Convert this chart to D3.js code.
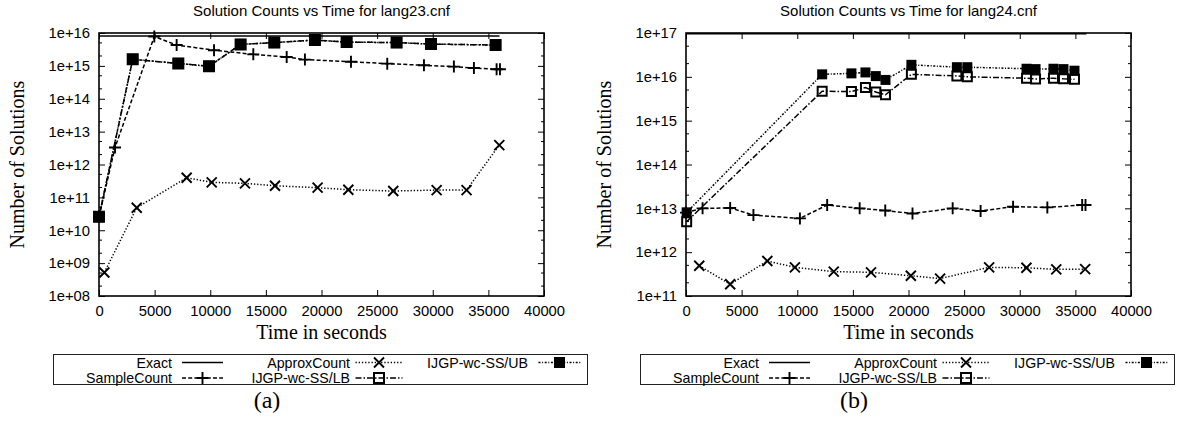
<!DOCTYPE html>
<html><head><meta charset="utf-8">
<script src="https://cdn.jsdelivr.net/npm/d3@7"></script>
<style>body{margin:0;background:#fff}</style>
</head><body><svg id="c" width="1180" height="426"></svg>
<script>
// ---------------- data ----------------
const xTickValues = [0, 5000, 10000, 15000, 20000, 25000, 30000, 35000, 40000];
const yTicks23 = [1e8, 1e9, 1e10, 1e11, 1e12, 1e13, 1e14, 1e15, 1e16];
const yTicks24 = [1e11, 1e12, 1e13, 1e14, 1e15, 1e16, 1e17];
const titles = ["Solution Counts vs Time for lang23.cnf", "Solution Counts vs Time for lang24.cnf"];
const captions = ["(a)", "(b)"];
const seriesNames = ["Exact", "SampleCount", "ApproxCount", "IJGP-wc-SS/LB", "IJGP-wc-SS/UB"];
const xLabel = "Time in seconds";
const yLabel = "Number of Solutions";

// lang23
const exact23_t = [0, 36000];
const exact23_v = [8.1e15, 8.1e15];
const sample23_t = [0, 1440, 4970, 6980, 10340, 13870, 16870, 18510, 22650, 25910, 29210, 31900, 33700, 35740, 36040];
const sample23_v = [2.6e10, 3.3e12, 7.8e15, 4.3e15, 3.0e15, 2.24e15, 1.86e15, 1.55e15, 1.34e15, 1.17e15, 1.04e15, 9.5e14, 8.6e14, 7.9e14, 7.9e14];
const approx23_t = [480, 3390, 7880, 10130, 13120, 15820, 19650, 22410, 26450, 30350, 33040, 35980];
const approx23_v = [5.2e8, 4.85e10, 3.96e11, 2.86e11, 2.67e11, 2.26e11, 1.97e11, 1.71e11, 1.56e11, 1.67e11, 1.67e11, 3.9e12];
const ijgp23_t = [0, 3030, 7130, 9890, 12730, 15760, 19410, 22260, 26750, 29840, 35650];
const lb23_v = [2.58e10, 1.58e15, 1.19e15, 9.7e14, 4.5e15, 5.1e15, 6.1e15, 5.3e15, 5.1e15, 4.6e15, 4.3e15];
const ub23_v = [2.58e10, 1.58e15, 1.19e15, 9.7e14, 4.5e15, 5.1e15, 6.1e15, 5.3e15, 5.1e15, 4.6e15, 4.3e15];

// lang24
const exact24_t = [0, 36000];
const exact24_v = [9.6e16, 9.6e16];
const sample24_t = [0, 1490, 3970, 6060, 10240, 12690, 15610, 17910, 20360, 23970, 26480, 29400, 32480, 35610, 35910];
const sample24_v = [8.0e12, 1.0e13, 1.02e13, 7.0e12, 5.9e12, 1.19e13, 1.0e13, 8.9e12, 7.6e12, 1.0e13, 8.7e12, 1.09e13, 1.05e13, 1.19e13, 1.19e13];
const approx24_t = [1190, 3970, 7310, 9790, 13280, 16630, 20210, 22840, 27250, 30600, 33280, 35880];
const approx24_v = [4.9e11, 1.85e11, 6.3e11, 4.5e11, 3.6e11, 3.47e11, 2.9e11, 2.5e11, 4.5e11, 4.4e11, 4.06e11, 4.1e11];
const ijgp24_t = [60, 12240, 14870, 16130, 17060, 17930, 20260, 24350, 25290, 30610, 31420, 33030, 33930, 34920];
const lb24_v = [4.97e12, 4.7e15, 4.6e15, 5.7e15, 4.5e15, 3.9e15, 1.14e16, 1.05e16, 1.0e16, 9.3e15, 8.9e15, 9.3e15, 9.0e15, 8.8e15];
const ub24_v = [8.1e12, 1.14e16, 1.2e16, 1.26e16, 1.04e16, 8.5e15, 1.88e16, 1.66e16, 1.66e16, 1.53e16, 1.5e16, 1.53e16, 1.5e16, 1.38e16];

// ---------------- drawing ----------------
const svg = d3.select("#c");
svg.append("rect").attr("width", 1180).attr("height", 426).attr("fill", "#fff");

const styles = [
  { dash: null, marker: null },
  { dash: "4,2.2", marker: "plus" },
  { dash: "1.3,1.9", marker: "cross" },
  { dash: "6,2,1.5,2", marker: "open" },
  { dash: "2,1.6,1,1.6", marker: "filled" }
];

function markerPath(kind, s) {
  const h = s / 2;
  if (kind === "plus") return `M${-6},0H6M0,-6V6`;
  if (kind === "cross") return `M-5,-5L5,5M-5,5L5,-5`;
  if (kind === "open") return `M${-h + 0.5},${-h + 0.5}h${s - 1}v${s - 1}h${-(s - 1)}z`;
  return `M${-h},${-h}h${s}v${s}h${-s}z`;
}

function drawMarker(g, kind, cx, cy, s) {
  const p = g.append("path").attr("transform", `translate(${cx},${cy})`).attr("d", markerPath(kind, s));
  if (kind === "filled") p.attr("fill", "#000").attr("stroke", "none");
  else p.attr("fill", "none").attr("stroke", "#000").attr("stroke-width", kind === "open" ? 2 : 1.9);
}

function drawPanel(off, cfg) {
  const g = svg.append("g").attr("transform", `translate(${off},0)`);
  const L = 99, R = 544, T = 33, B = 296;
  const x = d3.scaleLinear().domain([0, 40000]).range([L, R]);
  const y = d3.scaleLog().domain([cfg.yTicks[0], cfg.yTicks[cfg.yTicks.length - 1]]).range([B, T]);

  // title
  g.append("text").attr("x", (L + R) / 2).attr("y", 15.5).attr("text-anchor", "middle")
    .attr("font-family", "Liberation Sans, Arial, sans-serif").attr("font-size", 15).text(cfg.title);

  // bottom axis
  const ax = g.append("g").attr("transform", `translate(0,${B})`)
    .call(d3.axisBottom(x).tickValues(xTickValues).tickFormat(d3.format("d")).tickSizeInner(-6).tickSizeOuter(0));
  ax.select(".domain").remove();
  ax.selectAll("line").attr("stroke", "#000").attr("stroke-width", 1);
  ax.selectAll("text").attr("y", 20).attr("dy", 0).attr("font-family", "Liberation Sans, Arial, sans-serif")
    .attr("font-size", 14.8).attr("fill", "#000");
  // top mirror ticks
  const axt = g.append("g").attr("transform", `translate(0,${T})`)
    .call(d3.axisTop(x).tickValues(xTickValues).tickFormat("").tickSizeInner(-6).tickSizeOuter(0));
  axt.select(".domain").remove();
  axt.selectAll("line").attr("stroke", "#000");

  // left axis
  const ay = g.append("g").attr("transform", `translate(${L},0)`)
    .call(d3.axisLeft(y).tickValues(cfg.yTicks).tickFormat(d => "1e+" + String(Math.round(Math.log10(d))).padStart(2, "0"))
      .tickSizeInner(-6).tickSizeOuter(0).tickPadding(9));
  ay.select(".domain").remove();
  ay.selectAll("line").attr("stroke", "#000");
  ay.selectAll("text").attr("x", -9).attr("font-family", "Liberation Sans, Arial, sans-serif")
    .attr("font-size", 14.8).attr("fill", "#000");
  const ayr = g.append("g").attr("transform", `translate(${R},0)`)
    .call(d3.axisRight(y).tickValues(cfg.yTicks).tickFormat("").tickSizeInner(-6).tickSizeOuter(0));
  ayr.select(".domain").remove();
  ayr.selectAll("line").attr("stroke", "#000");

  // minor ticks (2x and 5x each decade)
  const minor = [];
  cfg.yTicks.slice(0, -1).forEach(d => { minor.push(2 * d, 5 * d); });
  g.append("g").selectAll("line").data(minor).enter().append("line")
    .attr("x1", L).attr("x2", L + 3).attr("y1", d => y(d)).attr("y2", d => y(d)).attr("stroke", "#000");
  g.append("g").selectAll("line").data(minor).enter().append("line")
    .attr("x1", R).attr("x2", R - 3).attr("y1", d => y(d)).attr("y2", d => y(d)).attr("stroke", "#000");

  // border
  g.append("rect").attr("x", L).attr("y", T).attr("width", R - L).attr("height", B - T)
    .attr("fill", "none").attr("stroke", "#000").attr("stroke-width", 1.6);

  // axis labels
  g.append("text").attr("x", (L + R) / 2).attr("y", 339).attr("text-anchor", "middle")
    .attr("font-family", "Liberation Serif, Times New Roman, serif").attr("font-size", 20).text(xLabel);
  g.append("text").attr("transform", `translate(23.5,${(T + B) / 2}) rotate(-90)`).attr("text-anchor", "middle")
    .attr("font-family", "Liberation Serif, Times New Roman, serif").attr("font-size", 20).text(yLabel);

  // series
  const line = d3.line().x(d => x(d[0])).y(d => y(d[1]));
  cfg.series.forEach((s, i) => {
    const st = styles[i];
    const pts = s.t.map((t, j) => [t, s.v[j]]);
    const p = g.append("path").datum(pts).attr("d", line).attr("fill", "none")
      .attr("stroke", "#000").attr("stroke-width", 1.5);
    if (st.dash) p.attr("stroke-dasharray", st.dash);
    if (st.marker) pts.forEach(d => drawMarker(g, st.marker, x(d[0]), y(d[1]), cfg.sq));
  });

  // legend
  const lx = 53.5, ly = 354.5, lw = 534, lh = 30;
  g.append("rect").attr("x", lx).attr("y", ly).attr("width", lw).attr("height", lh)
    .attr("fill", "none").attr("stroke", "#222").attr("stroke-width", 1);
  const cols = [
    { textEnd: 118.5, s0: 128.5, s1: 169.5 },
    { textEnd: 296.5, s0: 302, s1: 349 },
    { textEnd: 474.5, s0: 485, s1: 527 }
  ];
  const slots = [[0, 0], [1, 0], [0, 1], [1, 1], [0, 2]]; // [row, col] per series
  const rowsY = [362.5, 378];
  const baseY = [367.5, 383];
  seriesNames.forEach((name, i) => {
    const [r, c] = slots[i];
    const col = cols[c], st = styles[i];
    g.append("text").attr("x", lx + col.textEnd).attr("y", baseY[r]).attr("text-anchor", "end")
      .attr("font-family", "Liberation Sans, Arial, sans-serif").attr("font-size", 14.2).text(name);
    const sl = g.append("line").attr("x1", lx + col.s0).attr("x2", lx + col.s1)
      .attr("y1", rowsY[r]).attr("y2", rowsY[r]).attr("stroke", "#000").attr("stroke-width", 1.5);
    if (st.dash) sl.attr("stroke-dasharray", st.dash);
    if (st.marker) drawMarker(g, st.marker, lx + (col.s0 + col.s1) / 2, rowsY[r], 11);
  });

  // caption
  g.append("text").attr("x", 267).attr("y", 408).attr("text-anchor", "middle")
    .attr("font-family", "Liberation Serif, Times New Roman, serif").attr("font-size", 24).text(cfg.caption);
}

drawPanel(0, {
  title: titles[0], caption: captions[0], yTicks: yTicks23, sq: 11,
  series: [
    { t: exact23_t, v: exact23_v },
    { t: sample23_t, v: sample23_v },
    { t: approx23_t, v: approx23_v },
    { t: ijgp23_t, v: lb23_v },
    { t: ijgp23_t, v: ub23_v }
  ]
});
drawPanel(587, {
  title: titles[1], caption: captions[1], yTicks: yTicks24, sq: 10,
  series: [
    { t: exact24_t, v: exact24_v },
    { t: sample24_t, v: sample24_v },
    { t: approx24_t, v: approx24_v },
    { t: ijgp24_t, v: lb24_v },
    { t: ijgp24_t, v: ub24_v }
  ]
});
</script>
</body></html>
